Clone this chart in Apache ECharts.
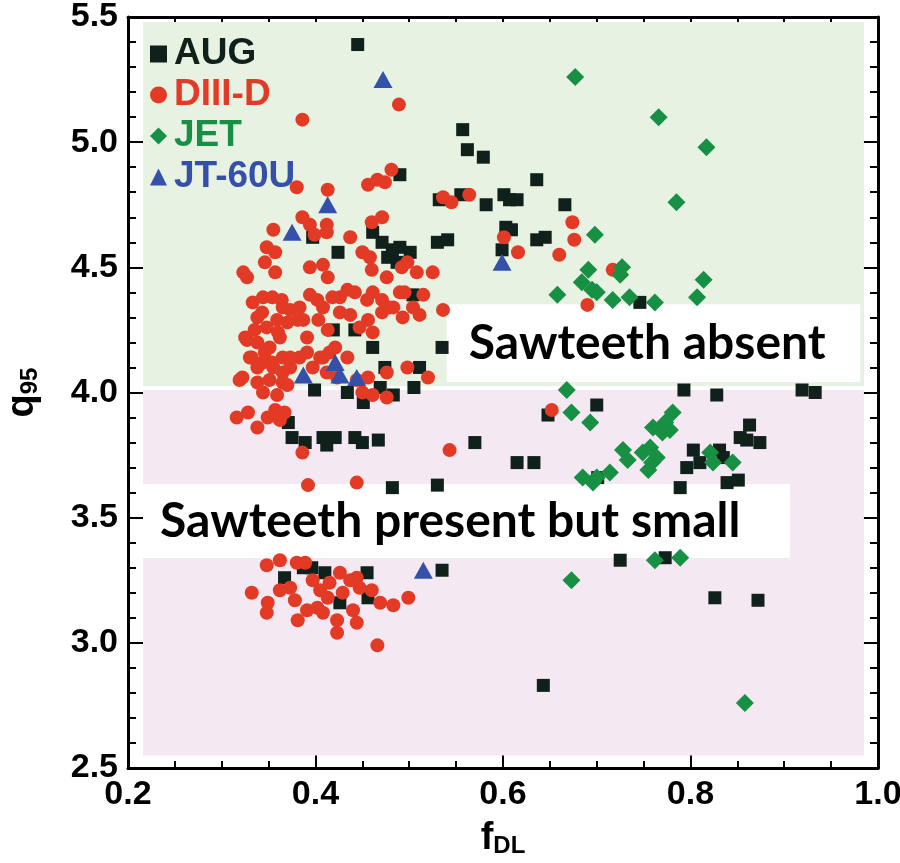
<!DOCTYPE html>
<html>
<head>
<meta charset="utf-8">
<script src="https://cdn.jsdelivr.net/npm/echarts@6.0.0/dist/echarts.min.js"></script>
<style>
  html, body { margin: 0; padding: 0; background: #fff; }
  #chart { width: 900px; height: 863px; }
</style>
</head>
<body>
<div id="chart"></div>
<script>
// AUG  [f_DL, q95]
const augData = [
  [0.445, 5.39], [0.557, 5.05], [0.562, 4.97], [0.579, 4.94], [0.490, 4.87], [0.636, 4.85],
  [0.532, 4.77], [0.555, 4.79], [0.582, 4.75], [0.601, 4.79], [0.607, 4.77], [0.615, 4.77],
  [0.666, 4.75], [0.603, 4.66], [0.609, 4.65], [0.599, 4.57], [0.636, 4.61], [0.645, 4.62],
  [0.530, 4.60], [0.541, 4.61], [0.746, 4.36], [0.535, 4.18], [0.511, 4.10], [0.505, 4.02],
  [0.793, 4.01], [0.490, 4.58], [0.501, 4.56], [0.504, 4.39], [0.397, 4.62], [0.461, 4.64],
  [0.424, 4.56], [0.471, 4.60], [0.482, 4.57], [0.477, 4.54], [0.487, 4.52], [0.442, 4.25],
  [0.419, 4.25], [0.461, 4.18], [0.474, 4.10], [0.469, 4.02], [0.434, 4.00], [0.399, 4.01],
  [0.451, 3.96], [0.483, 3.99], [0.371, 3.88], [0.375, 3.82], [0.389, 3.80], [0.408, 3.82],
  [0.412, 3.79], [0.421, 3.82], [0.442, 3.82], [0.450, 3.80], [0.467, 3.81], [0.570, 3.80],
  [0.482, 3.62], [0.530, 3.63], [0.367, 3.26], [0.387, 3.30], [0.396, 3.30], [0.410, 3.28],
  [0.455, 3.28], [0.426, 3.16], [0.456, 3.18], [0.535, 3.29], [0.700, 3.95], [0.648, 3.91],
  [0.828, 3.99], [0.615, 3.72], [0.633, 3.72], [0.701, 3.66], [0.863, 3.87], [0.853, 3.82],
  [0.874, 3.80], [0.860, 3.81], [0.803, 3.77], [0.796, 3.70], [0.810, 3.72], [0.831, 3.77],
  [0.835, 3.74], [0.789, 3.62], [0.839, 3.64], [0.851, 3.65], [0.725, 3.33], [0.773, 3.34],
  [0.826, 3.18], [0.872, 3.17], [0.643, 2.83], [0.919, 4.01], [0.933, 4.00]
];

// DIII-D
const d3dData = [
  [0.489, 5.15], [0.386, 5.09], [0.380, 4.82], [0.413, 4.81], [0.456, 4.83], [0.466, 4.85],
  [0.474, 4.84], [0.481, 4.89], [0.536, 4.78], [0.545, 4.76], [0.564, 4.79], [0.601, 4.62],
  [0.616, 4.56], [0.674, 4.68], [0.676, 4.61], [0.660, 4.55], [0.717, 4.49], [0.690, 4.35],
  [0.520, 4.06], [0.498, 4.52], [0.508, 4.48], [0.525, 4.48], [0.495, 4.40], [0.515, 4.39],
  [0.493, 4.30], [0.511, 4.31], [0.536, 4.33], [0.386, 4.70], [0.394, 4.67], [0.399, 4.63],
  [0.412, 4.67], [0.412, 4.64], [0.355, 4.65], [0.437, 4.62], [0.460, 4.68], [0.471, 4.70],
  [0.450, 4.56], [0.458, 4.54], [0.460, 4.49], [0.476, 4.46], [0.492, 4.50], [0.348, 4.58],
  [0.357, 4.56], [0.346, 4.52], [0.357, 4.48], [0.323, 4.48], [0.327, 4.46], [0.394, 4.50],
  [0.408, 4.51], [0.413, 4.46], [0.333, 4.36], [0.343, 4.32], [0.354, 4.38], [0.364, 4.37],
  [0.373, 4.33], [0.383, 4.34], [0.394, 4.39], [0.402, 4.37], [0.408, 4.34], [0.418, 4.38],
  [0.426, 4.38], [0.434, 4.41], [0.442, 4.40], [0.455, 4.37], [0.461, 4.40], [0.471, 4.37],
  [0.479, 4.34], [0.490, 4.40], [0.504, 4.34], [0.327, 4.21], [0.335, 4.25], [0.348, 4.26],
  [0.360, 4.24], [0.370, 4.28], [0.381, 4.29], [0.391, 4.22], [0.403, 4.29], [0.413, 4.25],
  [0.426, 4.32], [0.437, 4.31], [0.447, 4.26], [0.456, 4.29], [0.461, 4.24], [0.471, 4.32],
  [0.483, 4.34], [0.322, 4.06], [0.330, 4.14], [0.338, 4.10], [0.346, 4.16], [0.354, 4.12],
  [0.365, 4.14], [0.373, 4.10], [0.383, 4.14], [0.391, 4.16], [0.397, 4.10], [0.408, 4.14],
  [0.421, 4.18], [0.434, 4.14], [0.412, 4.08], [0.423, 4.06], [0.444, 4.05], [0.456, 4.06],
  [0.476, 4.08], [0.498, 4.10], [0.344, 4.38], [0.365, 4.34], [0.387, 4.29], [0.359, 4.29],
  [0.338, 4.30], [0.325, 4.22], [0.338, 4.20], [0.351, 4.18], [0.362, 4.22], [0.373, 4.14],
  [0.405, 4.14], [0.415, 4.16], [0.332, 4.14], [0.344, 4.12], [0.355, 4.10], [0.365, 4.08],
  [0.319, 4.05], [0.338, 4.04], [0.351, 4.05], [0.365, 4.04], [0.344, 4.00], [0.359, 3.99],
  [0.370, 4.03], [0.316, 3.90], [0.328, 3.92], [0.338, 3.86], [0.349, 3.90], [0.357, 3.93],
  [0.367, 3.92], [0.362, 3.89], [0.450, 4.00], [0.461, 3.99], [0.476, 3.98], [0.386, 3.76],
  [0.543, 3.77], [0.392, 3.63], [0.444, 3.64], [0.652, 3.93], [0.348, 3.31], [0.362, 3.33],
  [0.380, 3.32], [0.389, 3.32], [0.332, 3.20], [0.349, 3.16], [0.348, 3.12], [0.362, 3.21],
  [0.373, 3.22], [0.378, 3.17], [0.381, 3.09], [0.391, 3.13], [0.397, 3.25], [0.405, 3.21],
  [0.415, 3.24], [0.413, 3.18], [0.426, 3.28], [0.429, 3.20], [0.437, 3.25], [0.444, 3.26],
  [0.447, 3.22], [0.460, 3.21], [0.440, 3.13], [0.423, 3.09], [0.423, 3.04], [0.444, 3.08],
  [0.466, 2.99], [0.469, 3.16], [0.483, 3.15], [0.499, 3.18], [0.408, 3.12], [0.402, 3.14]
];

// JET
const jetData = [
  [0.677, 5.26], [0.766, 5.10], [0.817, 4.98], [0.785, 4.76], [0.698, 4.63], [0.691, 4.49],
  [0.727, 4.50], [0.725, 4.47], [0.684, 4.44], [0.695, 4.41], [0.700, 4.40], [0.658, 4.39],
  [0.717, 4.37], [0.735, 4.38], [0.762, 4.36], [0.807, 4.38], [0.814, 4.45], [0.668, 4.01],
  [0.673, 3.92], [0.693, 3.88], [0.781, 3.92], [0.773, 3.88], [0.760, 3.86], [0.770, 3.84],
  [0.778, 3.85], [0.757, 3.78], [0.749, 3.76], [0.764, 3.74], [0.759, 3.72], [0.755, 3.69],
  [0.728, 3.77], [0.733, 3.73], [0.714, 3.68], [0.700, 3.66], [0.685, 3.66], [0.696, 3.64],
  [0.821, 3.76], [0.824, 3.72], [0.845, 3.72], [0.762, 3.33], [0.789, 3.34], [0.673, 3.25],
  [0.858, 2.76]
];

// JT-60U
const jt60Data = [
  [0.472, 5.25], [0.413, 4.75], [0.375, 4.64], [0.599, 4.52], [0.387, 4.07], [0.421, 4.12],
  [0.426, 4.07], [0.444, 4.06], [0.515, 3.29]
];

// shaded regions and label boxes  [xMin, yMax, xMax, yMin]
const absentRegion = [0.216, 5.48, 0.985, 4.025];
const presentRegion = [0.216, 4.01, 0.985, 2.55];
const absentBox = [0.540, 4.353, 0.981, 4.042];
const presentBox = [0.216, 3.634, 0.906, 3.339];

const FONT = "'Liberation Sans Narrow', 'Liberation Sans', Arial, sans-serif";
const colors = { aug: '#10201a', d3d: '#e33a26', jet: '#189044', jt: '#3550a8' };

function area(r) {
  return [{ xAxis: r[0], yAxis: r[1] }, { xAxis: r[2], yAxis: r[3] }];
}

const chart = echarts.init(document.getElementById('chart'));

const tickStyle = { color: '#000', width: 2 };
const baseX = {
  type: 'value', min: 0.2, max: 1.0, interval: 0.2,
  axisLine: { show: true, lineStyle: { color: '#000', width: 3 } },
  axisTick: { show: true, inside: true, length: 15, lineStyle: tickStyle },
  minorTick: { show: true, splitNumber: 4, length: 7, lineStyle: tickStyle },
  splitLine: { show: false }
};
const baseY = {
  type: 'value', min: 2.5, max: 5.5, interval: 0.5,
  axisLine: { show: true, lineStyle: { color: '#000', width: 3 } },
  axisTick: { show: true, inside: true, length: 15, lineStyle: tickStyle },
  minorTick: { show: true, splitNumber: 5, length: 8, lineStyle: tickStyle },
  splitLine: { show: false }
};
const nameRich = {
  a: { fontFamily: FONT, fontWeight: 'bold', fontSize: 38, color: '#000', verticalAlign: 'top', lineHeight: 38 },
  b: { fontFamily: FONT, fontWeight: 'bold', fontSize: 24, color: '#000', verticalAlign: 'bottom', lineHeight: 14 }
};
const tickLabel = {
  fontFamily: FONT, fontWeight: 'bold', fontSize: 34, color: '#000', margin: 10,
  formatter: function (v) { return v.toFixed(1); }
};

chart.setOption({
  animation: false,
  backgroundColor: '#fff',
  grid: { left: 128, right: 22, top: 17, bottom: 95, outerBoundsMode: 'none' },
  legend: {
    orient: 'vertical', left: 145, top: 29, itemGap: 1,
    itemWidth: 17, itemHeight: 17,
    textStyle: { fontFamily: FONT, fontWeight: 'bold', fontSize: 37, lineHeight: 40, padding: [0, 0, 0, 2] },
    data: [
      { name: 'AUG', icon: 'rect', textStyle: { color: colors.aug } },
      { name: 'DIII-D', icon: 'circle', textStyle: { color: colors.d3d } },
      { name: 'JET', icon: 'diamond', textStyle: { color: colors.jet } },
      { name: 'JT-60U', icon: 'triangle', textStyle: { color: colors.jt } }
    ]
  },
  xAxis: [
    Object.assign({}, baseX, {
      position: 'bottom',
      name: '{a|f}{b|DL}', nameLocation: 'middle', nameGap: 52,
      nameTextStyle: { rich: nameRich },
      axisLabel: tickLabel
    }),
    Object.assign({}, baseX, { position: 'top', axisLabel: { show: false } })
  ],
  yAxis: [
    Object.assign({}, baseY, {
      position: 'left',
      name: '{a|q}{b|95}', nameLocation: 'middle', nameGap: 86, nameRotate: 90,
      nameTextStyle: { rich: nameRich },
      axisLabel: tickLabel
    }),
    Object.assign({}, baseY, { position: 'right', axisLabel: { show: false } })
  ],
  series: [
    {
      name: 'regions', type: 'scatter', data: [], z: 0, silent: true,
      markArea: {
        silent: true,
        data: [
          [Object.assign({ itemStyle: { color: '#e7f2e3' } }, area(absentRegion)[0]), area(absentRegion)[1]],
          [Object.assign({ itemStyle: { color: '#f4e9f3' } }, area(presentRegion)[0]), area(presentRegion)[1]]
        ]
      }
    },
    {
      name: 'AUG', type: 'scatter', symbol: 'rect', symbolSize: 13, z: 2,
      itemStyle: { color: colors.aug, opacity: 1 }, data: augData
    },
    {
      name: 'DIII-D', type: 'scatter', symbol: 'circle', symbolSize: 14, z: 3,
      itemStyle: { color: colors.d3d, opacity: 1 }, data: d3dData
    },
    {
      name: 'JET', type: 'scatter', symbol: 'diamond', symbolSize: 18, z: 4,
      itemStyle: { color: colors.jet, opacity: 1 }, data: jetData
    },
    {
      name: 'JT-60U', type: 'scatter', symbol: 'triangle', symbolSize: [19, 17], z: 5,
      itemStyle: { color: colors.jt, opacity: 1 }, data: jt60Data
    },
    {
      name: 'boxes', type: 'scatter', data: [], z: 10, silent: true,
      markArea: {
        silent: true,
        itemStyle: { color: '#fff' },
        label: {
          show: true, position: 'insideLeft', distance: 22,
          fontFamily: "Lato, 'DejaVu Sans', sans-serif", fontWeight: 'bold', fontSize: 48, color: '#000'
        },
        data: [
          [Object.assign({ name: 'Sawteeth absent' }, area(absentBox)[0]), area(absentBox)[1]],
          [Object.assign({ name: 'Sawteeth present but small', label: { distance: 17 } }, area(presentBox)[0]), area(presentBox)[1]]
        ]
      }
    }
  ]
});
</script>
</body>
</html>
